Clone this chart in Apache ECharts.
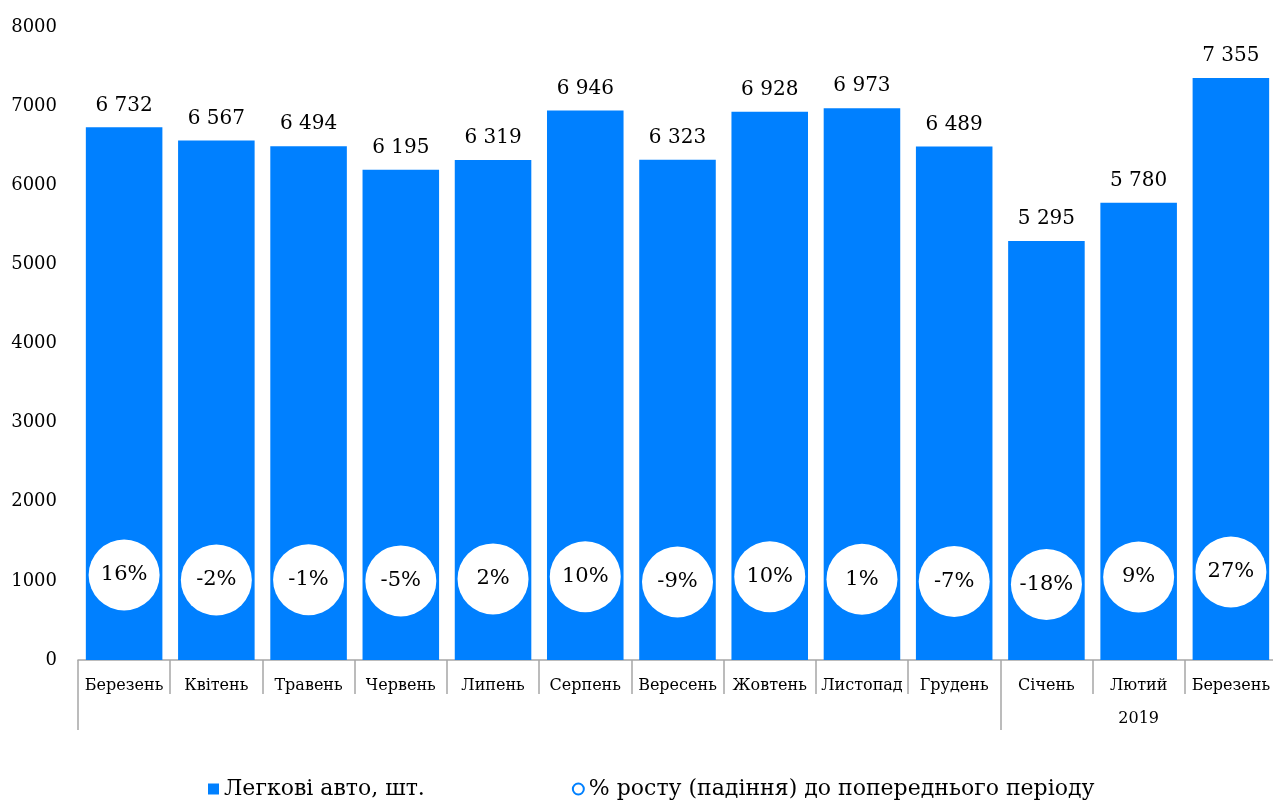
<!DOCTYPE html>
<html><head><meta charset="utf-8">
<script src="https://cdn.jsdelivr.net/npm/echarts@6/dist/echarts.min.js"></script>
<style>html,body{margin:0;padding:0;background:#fff}#c{width:1273px;height:800px}</style>
</head><body><div id="c"></div>
<script>
const categories = ['Березень','Квітень','Травень','Червень','Липень','Серпень','Вересень','Жовтень','Листопад','Грудень','Січень','Лютий','Березень'];
const groupLabels = ['','','','','','','','','','','','2019',''];
const cars = [6732,6567,6494,6195,6319,6946,6323,6928,6973,6489,5295,5780,7355];
const growth = [16,-2,-1,-5,2,10,-9,10,1,-7,-18,9,27];
const yTicks = [0,1000,2000,3000,4000,5000,6000,7000,8000];

const FONT = 'DejaVu Serif';
const BLUE = '#0080ff';
const GRAY = '#a6a6a6';
const chart = echarts.init(document.getElementById('c'));
chart.setOption({
  animation:false,
  textStyle:{fontFamily:FONT},
  grid:{left:78,width:1199,top:27,height:633,outerBoundsMode:'none',containLabel:false},
  legend:{
    top:773, left:203, itemGap:147, itemWidth:11, itemHeight:11,
    textStyle:{fontFamily:FONT,fontSize:22,color:'#000'},
    data:[
      {name:'Легкові авто, шт.', icon:'rect'},
      {name:'% росту (падіння) до попереднього періоду', icon:'circle', itemStyle:{color:'#fff',borderColor:BLUE,borderWidth:2}}
    ]
  },
  xAxis:[{
    type:'category', data:categories, position:'bottom',
    axisLine:{show:true,onZero:false,lineStyle:{color:GRAY,width:1.5}},
    axisTick:{show:true,interval:0,length:34,lineStyle:{color:GRAY,width:1.5}},
    axisLabel:{interval:0,margin:18,fontSize:16,color:'#000',fontFamily:FONT}
  },{
    type:'category', data:groupLabels, position:'bottom', offset:34,
    axisLine:{show:false,onZero:false},
    axisTick:{show:true,length:36,interval:function(i){return i===0||i===10;},lineStyle:{color:GRAY,width:1.5}},
    axisLabel:{interval:0,margin:17,fontSize:16,color:'#000',fontFamily:FONT}
  }],
  yAxis:[{
    type:'value', min:yTicks[0], max:yTicks[yTicks.length-1], interval:1000,
    axisLine:{show:false}, axisTick:{show:false}, splitLine:{show:false},
    axisLabel:{fontSize:18,color:'#000',margin:21,fontFamily:FONT,formatter:v=>String(v)}
  },{
    type:'value', min:-288, max:1976, show:false, splitLine:{show:false}
  }],
  series:[{
    name:'Легкові авто, шт.', type:'bar', data:cars, barCategoryGap:'17%',
    itemStyle:{color:BLUE},
    label:{show:true,position:'top',distance:12,fontSize:20,color:'#000',fontFamily:FONT,
      formatter:p=>String(p.value).replace(/\B(?=(\d{3})+(?!\d))/g,' ')}
  },{
    name:'% росту (падіння) до попереднього періоду', type:'scatter', yAxisIndex:1,
    data:growth, symbol:'circle', symbolSize:71,
    itemStyle:{color:'#fff',opacity:1},
    label:{show:true,position:'inside',fontSize:21,color:'#000',fontFamily:FONT,formatter:p=>p.value+'%'},
    z:5
  }]
});
</script></body></html>
